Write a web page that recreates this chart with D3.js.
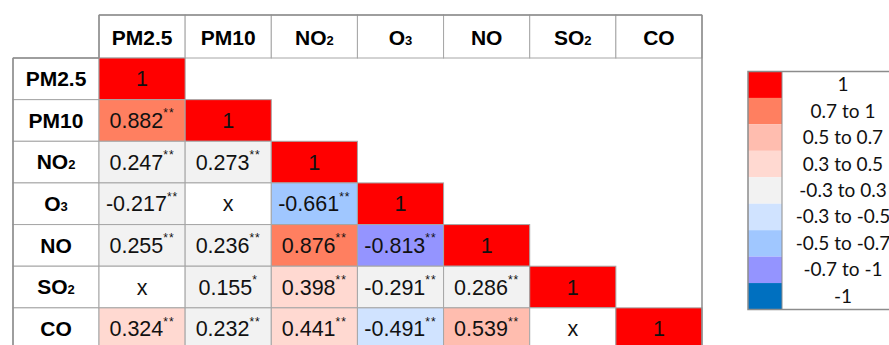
<!DOCTYPE html>
<html>
<head>
<meta charset="utf-8">
<script src="https://cdn.jsdelivr.net/npm/d3@7"></script>
<style>
  html, body { margin: 0; padding: 0; background: #ffffff; }
  svg { display: block; }
</style>
</head>
<body>
<svg id="chart" width="889" height="345"></svg>
<script>
// Pollutant names: base text and subscript part
const variables = ["PM2.5", "PM10", "NO2", "O3", "NO", "SO2", "CO"];
const labelBase = ["PM2.5", "PM10", "NO", "O", "NO", "SO", "CO"];
const labelSub  = ["", "", "2", "3", "", "2", ""];

// Lower-triangle Pearson correlations (null = not significant, shown as "x")
const corrRows = [
  [1],
  [0.882, 1],
  [0.247, 0.273, 1],
  [-0.217, null, -0.661, 1],
  [0.255, 0.236, 0.876, -0.813, 1],
  [null, 0.155, 0.398, -0.291, 0.286, 1],
  [0.324, 0.232, 0.441, -0.491, 0.539, null, 1]
];
// Significance markers for each value
const sigRows = [
  [""],
  ["**", ""],
  ["**", "**", ""],
  ["**", "", "**", ""],
  ["**", "**", "**", "**", ""],
  ["", "*", "**", "**", "**", ""],
  ["**", "**", "**", "**", "**", "", ""]
];

// Colour classes
const legendLabels = ["1", "0.7 to 1", "0.5 to 0.7", "0.3 to 0.5", "-0.3 to 0.3",
                      "-0.3 to -0.5", "-0.5 to -0.7", "-0.7 to -1", "-1"];
const legendColors = ["#ff0000", "#ff7f60", "#ffbdaf", "#ffd9d1", "#f2f2f2",
                      "#d0e3ff", "#a0c7ff", "#9494ff", "#0070c0"];
const classBreaks = [-0.9999, -0.7, -0.5, -0.3, 0.3, 0.5, 0.7, 0.9999];

const color = d3.scaleThreshold()
  .domain(classBreaks)
  .range(legendColors.slice().reverse());

const svg = d3.select("#chart");

const x = d3.scaleBand().domain(variables).range([99, 702]);
const y = d3.scaleBand().domain(variables).range([58, 349.5]);
const headerTop = 15;
const labelLeft = 13;

const cellStroke = "#a6a6a6";
const frameStroke = "#8c8c8c";

// flatten lower triangle
const cells = [];
corrRows.forEach((row, i) => row.forEach((v, j) => {
  cells.push({ row: variables[i], col: variables[j], value: v, sig: sigRows[i][j] });
}));

function fmt(v) {
  if (v === 1) return "1";
  return v.toFixed(3);
}

// header cells
const header = svg.append("g");
header.selectAll("rect").data(variables).join("rect")
  .attr("x", d => x(d)).attr("y", headerTop)
  .attr("width", x.bandwidth()).attr("height", y.range()[0] - headerTop)
  .attr("fill", "#fff").attr("stroke", cellStroke).attr("stroke-width", 1);

const headerText = header.selectAll("text").data(variables).join("text")
  .attr("x", d => x(d) + x.bandwidth() / 2)
  .attr("y", 44.5)
  .attr("text-anchor", "middle")
  .attr("font-family", "'Liberation Sans', Arial, sans-serif")
  .attr("font-weight", "bold")
  .attr("font-size", 21)
  .attr("fill", "#000");
headerText.append("tspan").text((d, i) => labelBase[i]);
headerText.append("tspan").attr("font-size", 13).text((d, i) => labelSub[i]);

// row label cells
const rowLab = svg.append("g");
rowLab.selectAll("rect").data(variables).join("rect")
  .attr("x", labelLeft).attr("y", d => y(d))
  .attr("width", x.range()[0] - labelLeft).attr("height", y.bandwidth())
  .attr("fill", "#fff").attr("stroke", cellStroke).attr("stroke-width", 1);

const rowText = rowLab.selectAll("text").data(variables).join("text")
  .attr("x", (labelLeft + x.range()[0]) / 2)
  .attr("y", d => y(d) + y.bandwidth() / 2 + 7.3)
  .attr("text-anchor", "middle")
  .attr("font-family", "'Liberation Sans', Arial, sans-serif")
  .attr("font-weight", "bold")
  .attr("font-size", 21)
  .attr("fill", "#000");
rowText.append("tspan").text((d, i) => labelBase[i]);
rowText.append("tspan").attr("font-size", 13).text((d, i) => labelSub[i]);

// correlation cells
const body = svg.append("g");
body.selectAll("rect").data(cells).join("rect")
  .attr("x", d => x(d.col)).attr("y", d => y(d.row))
  .attr("width", x.bandwidth()).attr("height", y.bandwidth())
  .attr("fill", d => d.value === null ? "#ffffff" : color(d.value))
  .attr("stroke", cellStroke).attr("stroke-width", 1);

const valText = body.selectAll("text").data(cells).join("text")
  .attr("x", d => x(d.col) + x.bandwidth() / 2)
  .attr("y", d => y(d.row) + y.bandwidth() / 2 + 7.5)
  .attr("text-anchor", "middle")
  .attr("font-family", "'Liberation Sans', Arial, sans-serif")
  .attr("font-size", 21.5)
  .attr("fill", "#111");
valText.append("tspan").text(d => d.value === null ? "x" : fmt(d.value));
valText.filter(d => d.sig).append("tspan")
  .attr("font-size", 12).attr("dy", -10.5)
  .attr("letter-spacing", 1)
  .text(d => d.sig);

// outer frame
const frame = svg.append("g").attr("fill", "none").attr("stroke", frameStroke).attr("stroke-width", 1.5);
frame.append("line").attr("x1", x.range()[0]).attr("x2", x.range()[1]).attr("y1", headerTop).attr("y2", headerTop);
frame.append("line").attr("x1", x.range()[1]).attr("x2", x.range()[1]).attr("y1", headerTop).attr("y2", y.range()[1]);
frame.append("line").attr("x1", x.range()[0]).attr("x2", x.range()[0]).attr("y1", headerTop).attr("y2", y.range()[0]);
frame.append("line").attr("x1", labelLeft).attr("x2", labelLeft).attr("y1", y.range()[0]).attr("y2", y.range()[1]);
frame.append("line").attr("x1", labelLeft).attr("x2", x.range()[0]).attr("y1", y.range()[0]).attr("y2", y.range()[0]);

// legend
const lg = d3.scaleBand().domain(legendLabels).range([71.5, 309.5]);
const legend = svg.append("g");
legend.selectAll("rect.sw").data(legendLabels).join("rect")
  .attr("class", "sw")
  .attr("x", 748).attr("y", d => lg(d))
  .attr("width", 34).attr("height", lg.bandwidth())
  .attr("fill", (d, i) => legendColors[i]);
legend.append("rect")
  .attr("x", 748).attr("y", lg.range()[0]).attr("width", 160).attr("height", lg.range()[1] - lg.range()[0])
  .attr("fill", "none").attr("stroke", "#8c8c8c").attr("stroke-width", 1.5);
legend.append("line")
  .attr("x1", 782).attr("x2", 782).attr("y1", lg.range()[0]).attr("y2", lg.range()[1])
  .attr("stroke", "#8c8c8c").attr("stroke-width", 1);
legend.selectAll("text").data(legendLabels).join("text")
  .attr("x", 843)
  .attr("y", d => lg(d) + lg.bandwidth() / 2 + 6.5)
  .attr("text-anchor", "middle")
  .attr("font-family", "Lato, 'Open Sans', sans-serif")
  .attr("font-size", 19)
  .attr("fill", "#111")
  .text(d => d);
</script>
</body>
</html>
